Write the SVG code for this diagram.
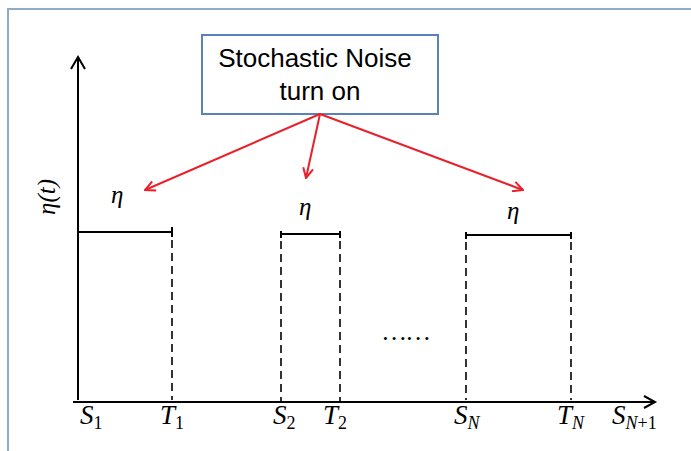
<svg xmlns="http://www.w3.org/2000/svg" width="691" height="451" viewBox="0 0 691 451">
<style>
.ax{stroke:#000;stroke-width:2;fill:none}
.pl{stroke:#000;stroke-width:2;fill:none}
.ds{stroke:#000;stroke-width:1.6;fill:none;stroke-dasharray:8 5}
.rd{stroke:#e8212b;stroke-width:2;fill:none}
.m{font-family:"Liberation Serif",serif;font-style:italic;fill:#000}
.lb{font-family:"Liberation Sans",Arial,sans-serif;font-size:26px;fill:#000;text-anchor:middle}
</style>
<defs>
<marker id="rh" viewBox="0 0 12 12" refX="11" refY="6" markerWidth="12" markerHeight="12" markerUnits="userSpaceOnUse" orient="auto">
<path d="M1,1 L11,6 L1,11" stroke="#e8212b" stroke-width="2" fill="none"/>
</marker>
</defs>
<rect width="691" height="451" fill="#fff"/>
<rect x="8" y="9" width="700" height="460" fill="none" stroke="#8eabc8" stroke-width="2"/>
<g id="axes">
<path class="ax" d="M78,400 V57 M71,69 L78,57 L85,69"/>
<path class="ax" d="M73,402 H655 M644,396 L655,402 L644,408"/>
<text class="m" font-size="25" transform="translate(55,197) rotate(-90)" text-anchor="middle">η(<tspan>t</tspan>)</text>
</g>
<g id="box">
<rect x="202" y="35" width="236" height="79" fill="#fff" stroke="#5b82b8" stroke-width="2"/>
<text class="lb" x="315" y="67">Stochastic Noise</text>
<text class="lb" x="320" y="100">turn on</text>
</g>
<g id="pulse1">
<path class="pl" d="M78,232 H172 M172,227 V237"/>
<path class="ds" d="M172,240 V400"/>
<text class="m" font-size="25" x="111" y="203">η</text>
</g>
<g id="pulse2">
<path class="pl" d="M281,234 H340 M281,231 V238 M340,231 V238"/>
<path class="ds" d="M281,241 V402 M340,241 V402"/>
<text class="m" font-size="25" x="299" y="215">η</text>
</g>
<g id="pulse3">
<path class="pl" d="M466,235 H571 M466,232 V239 M571,232 V239"/>
<path class="ds" d="M466,242 V400 M571,242 V400"/>
<text class="m" font-size="25" x="507" y="219">η</text>
</g>
<g id="connectors">
<path class="rd" d="M320,114 L145,190" marker-end="url(#rh)"/>
<path class="rd" d="M320,114 L306,178" marker-end="url(#rh)"/>
<path class="rd" d="M320,114 L523,190" marker-end="url(#rh)"/>
</g>
<g id="labels" class="m">
<text font-size="26" x="383" y="340" letter-spacing="1">……</text>
<text font-size="27" x="80" y="424">S<tspan font-size="18" font-style="normal" dy="5">1</tspan></text>
<text font-size="27" x="160" y="424">T<tspan font-size="18" font-style="normal" dy="5">1</tspan></text>
<text font-size="27" x="273" y="424">S<tspan font-size="18" font-style="normal" dy="5">2</tspan></text>
<text font-size="27" x="323" y="424">T<tspan font-size="18" font-style="normal" dy="5">2</tspan></text>
<text font-size="27" x="454" y="424">S<tspan font-size="18" dy="5">N</tspan></text>
<text font-size="27" x="557" y="424">T<tspan font-size="18" dy="5">N</tspan></text>
<text font-size="27" x="612" y="424">S<tspan font-size="18" dy="5">N<tspan font-style="normal">+1</tspan></tspan></text>
</g>
</svg>
